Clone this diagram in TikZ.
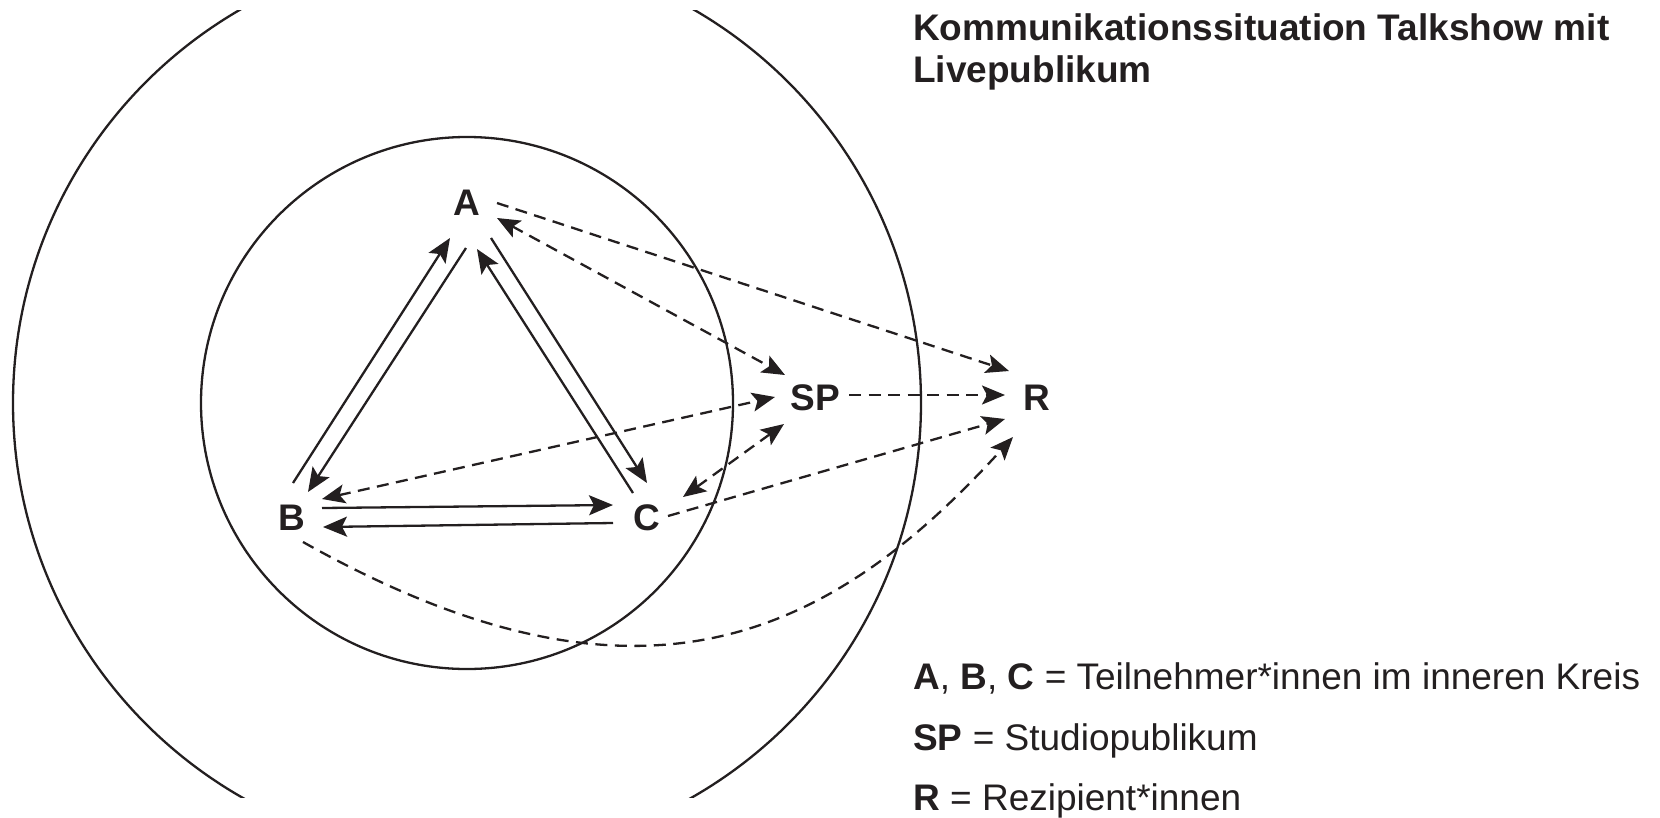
\documentclass[tikz,border=0pt]{standalone}
\usepackage{fontspec}
\setmainfont{Liberation Sans}
\usetikzlibrary{arrows.meta,calc}
\definecolor{ink}{HTML}{231F20}
\begin{document}
\begin{tikzpicture}[x=1pt,y=-1pt, color=ink,
  every node/.style={font=\fontsize{37}{44}\selectfont, text=ink},
  lbl/.style={font=\fontsize{37}{44}\selectfont\bfseries, inner sep=0pt},
  txt/.style={anchor=base west, inner sep=0pt},
  solidarr/.style={line width=2.3pt, -{Stealth[length=24pt,width=20pt,inset=5pt]}},
  dasharr/.style={line width=2.3pt, dash pattern=on 12pt off 7.5pt, -{Stealth[length=23pt,width=19pt,inset=5pt]}},
  dashboth/.style={line width=2.3pt, dash pattern=on 12pt off 7.5pt, {Stealth[length=23pt,width=19pt,inset=5pt]}-{Stealth[length=23pt,width=19pt,inset=5pt]}},
  ring/.style={line width=2.3pt}]
\useasboundingbox (0,0) rectangle (1660,817);
% circles
\draw[ring] (467,403) circle[radius=266pt];
\begin{scope}
\clip (0,10) rectangle (1660,797);
\draw[ring] (467,403) circle[radius=454pt];
\end{scope}
% nodes
\node[lbl] (A) at (467,203) {A};
\node[lbl] (B) at (292,518) {B};
\node[lbl] (C) at (647,518) {C};
\node[lbl] (SP) at (815,398) {SP};
\node[lbl] (R) at (1037,398) {R};
% solid arrows inside triangle
\draw[solidarr] ($(B)+(1,-35)$) -- ($(A)+(-17,35)$);
\draw[solidarr] ($(A)+(-1,45)$) -- ($(B)+(16,-26)$);
\draw[solidarr] ($(C)+(-14,-25)$) -- ($(A)+(10,46)$);
\draw[solidarr] ($(A)+(24,35)$) -- ($(C)+(0,-35)$);
\draw[solidarr] ($(B)+(30,-10)$) -- ($(C)+(-34,-13)$);
\draw[solidarr] ($(C)+(-34,5)$) -- ($(B)+(31,9)$);
% dashed two-way with SP
\draw[dashboth] ($(A)+(30,15)$) -- ($(SP)+(-30,-23)$);
\draw[dashboth] ($(B)+(30,-19)$) -- ($(SP)+(-40,-1)$);
\draw[dashboth] ($(C)+(36,-21)$) -- ($(SP)+(-31,26)$);
% dashed to R
\draw[dasharr] ($(A)+(30,0)$) -- ($(R)+(-28,-27)$);
\draw[dasharr] ($(SP)+(34,-3)$) -- ($(R)+(-32,-3)$);
\draw[dasharr] ($(C)+(21,-2)$) -- ($(R)+(-32,21)$);
\draw[dasharr] ($(B)+(11,24)$) .. controls (634,728) and (825,644) .. ($(R)+(-24,39)$);
% title
\node[txt, font=\fontsize{37}{44}\selectfont\bfseries] (title1) at (913,40) {Kommunikationssituation Talkshow mit};
\node[txt, font=\fontsize{37}{44}\selectfont\bfseries] (title2) at (913,82) {Livepublikum};
% legend
\node[txt] (leg1) at (913,689) {\textbf{A}, \textbf{B}, \textbf{C} = Teilnehmer*innen im inneren Kreis};
\node[txt] (leg2) at (913,750) {\textbf{SP} = Studiopublikum};
\node[txt] (leg3) at (913,810) {\textbf{R} = Rezipient*innen};
\end{tikzpicture}
\end{document}
